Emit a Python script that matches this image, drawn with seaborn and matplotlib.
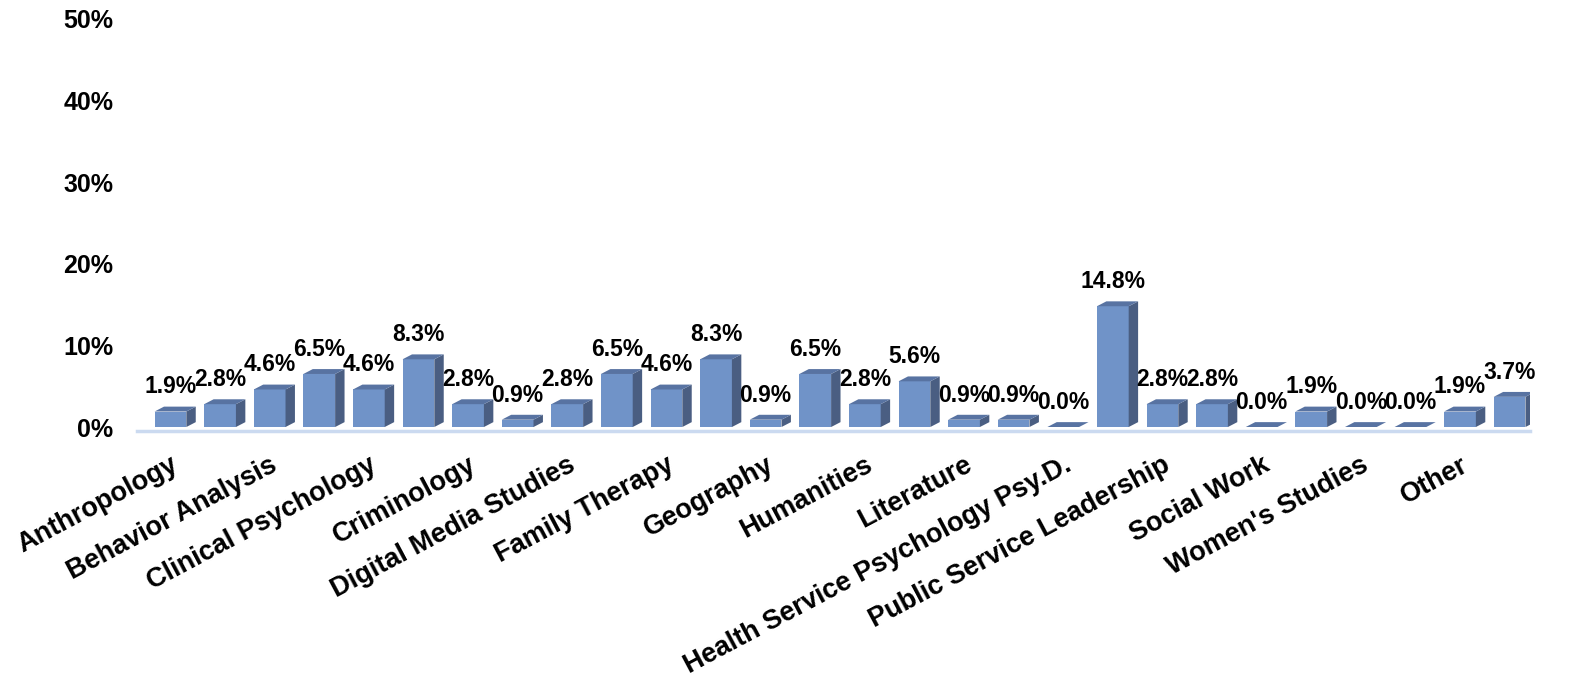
import numpy as np
import pandas as pd
import matplotlib
matplotlib.use("Agg")
import matplotlib.pyplot as plt
from matplotlib.patches import Polygon
from matplotlib.ticker import PercentFormatter
import seaborn as sns

# ─────────────────────────────────────────────────────────────
# DATA — share of respondents per field (%), 28 bars,
# only every other category name is printed on the axis
# ─────────────────────────────────────────────────────────────
shares = [1.9, 2.8, 4.6, 6.5, 4.6, 8.3, 2.8, 0.9, 2.8, 6.5, 4.6, 8.3, 0.9, 6.5,
          2.8, 5.6, 0.9, 0.9, 0.0, 14.8, 2.8, 2.8, 0.0, 1.9, 0.0, 0.0, 1.9, 3.7]
shown_labels = [
    "Anthropology", "Behavior Analysis", "Clinical Psychology", "Criminology",
    "Digital Media Studies", "Family Therapy", "Geography", "Humanities",
    "Literature", "Health Service Psychology Psy.D.", "Public Service Leadership",
    "Social Work", "Women's Studies", "Other",
]
y_ticks = [0, 10, 20, 30, 40, 50]

FRONT = "#7093C8"
SIDE = "#4A5E82"
TOP = "#5873A2"
FLOOR = "#CBDAF0"

sns.set_theme(style="white")
plt.rcParams["font.family"] = ["Liberation Sans", "DejaVu Sans"]
plt.rcParams["font.weight"] = "bold"
plt.rcParams["text.color"] = "black"

df = pd.DataFrame({"slot": np.arange(len(shares)), "share": shares})

fig = plt.figure(figsize=(15.69, 6.85), dpi=100)
ax = fig.add_axes([0.0873, 0.3766, 0.8878, 0.5957])

sns.barplot(data=df, x="slot", y="share", color=FRONT, saturation=1,
            width=0.64, edgecolor="none", ax=ax, zorder=3)

# fake 3D: side and top faces taken from each bar's own geometry
dx, dy = 0.19, 0.6
for bar, val in zip(ax.patches, shares):
    x0 = bar.get_x()
    x1 = x0 + bar.get_width()
    h = bar.get_height()
    side = Polygon([(x1, 0), (x1 + dx, dy), (x1 + dx, h + dy), (x1, h)],
                   closed=True, facecolor=SIDE, edgecolor="none", zorder=3)
    top = Polygon([(x0, h), (x1, h), (x1 + dx, h + dy), (x0 + dx, h + dy)],
                  closed=True, facecolor=TOP, edgecolor="none", zorder=3)
    ax.add_patch(side)
    ax.add_patch(top)
    ax.annotate(f"{val:.1f}%", (x0 + bar.get_width() / 2, h),
                xytext=(0, 13), textcoords="offset points",
                ha="center", va="baseline", fontsize=16.5, fontweight="bold",
                color="black", zorder=4)

ax.set_xlim(-0.675, 27.41)
ax.set_ylim(0, 50)
ax.set_yticks(y_ticks)
ax.yaxis.set_major_formatter(PercentFormatter(decimals=0))
ax.set_xticks(np.arange(0, len(shares), 2))
ax.set_xticklabels(shown_labels)
ax.tick_params(axis="y", length=0, pad=17, labelsize=18, labelcolor="black")
ax.tick_params(axis="x", length=0, pad=15, labelsize=19.5, labelcolor="black",
               labelrotation=28)
ax.set_xlabel("")
ax.set_ylabel("")

for s in ["top", "right", "left"]:
    ax.spines[s].set_visible(False)
ax.spines["bottom"].set_color(FLOOR)
ax.spines["bottom"].set_linewidth(2.5)
ax.spines["bottom"].set_position(("outward", 3))
ax.grid(False)

fig.canvas.draw()
for lbl in ax.get_xticklabels():
    lbl.set_horizontalalignment("right")
    lbl.set_verticalalignment("top")
    lbl.set_rotation_mode("anchor")
    lbl.set_fontweight("bold")
for lbl in ax.get_yticklabels():
    lbl.set_fontweight("bold")

plt.savefig("out.png", dpi=100)
plt.close()
